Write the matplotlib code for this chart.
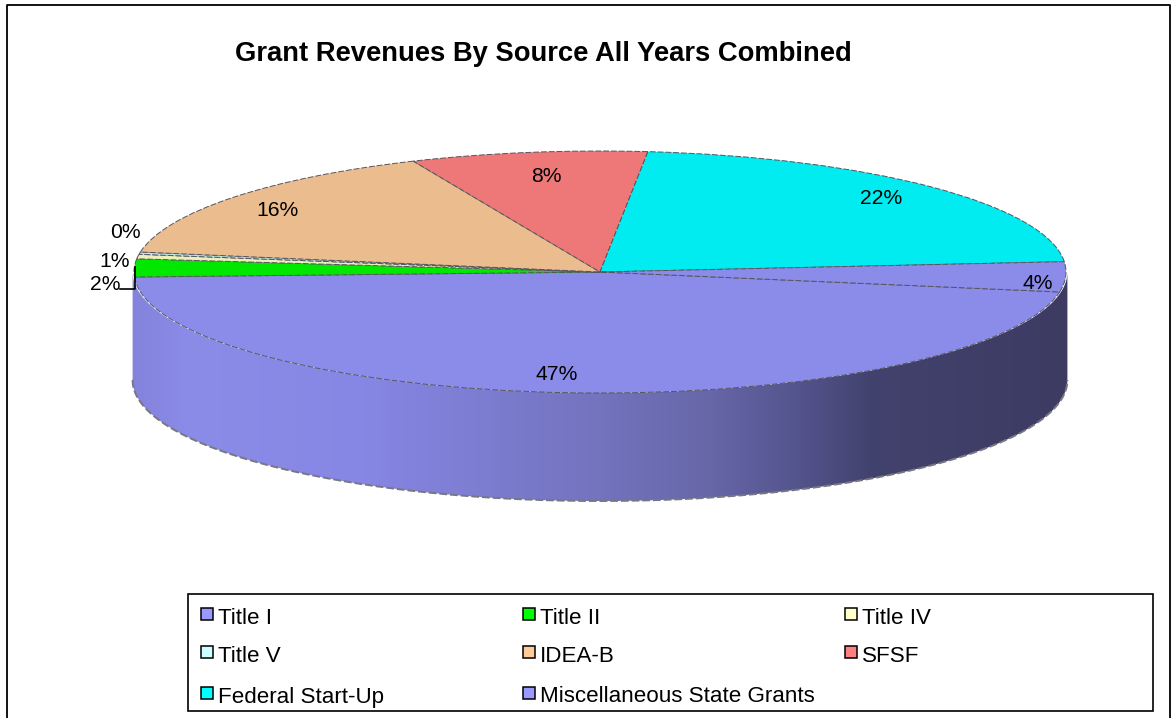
import numpy as np
import matplotlib
matplotlib.use("Agg")
import matplotlib.pyplot as plt
from matplotlib.colors import LinearSegmentedColormap
from matplotlib.patches import Rectangle, Polygon
from matplotlib.lines import Line2D

plt.rcParams['font.family'] = ['Liberation Sans', 'DejaVu Sans']

title = "Grant Revenues By Source All Years Combined"
sources = ["Title I", "Title II", "Title IV", "Title V", "IDEA-B", "SFSF",
           "Federal Start-Up", "Miscellaneous State Grants"]
shares = [46.7, 2.4, 0.6, 0.3, 15.8, 8.2, 22, 4]
pie_colors = ["#8B8BEA", "#00E800", "#EEEEB8", "#BCEAEA", "#EBBC8D", "#EE7777",
              "#00ECF0", "#8B8BEA"]
legend_colors = ["#9999FF", "#00FF00", "#FFFFCC", "#CCFFFF", "#FFCC99", "#FF8080",
                 "#00FFFF", "#9999FF"]

W, H = 1176, 718
fig = plt.figure(figsize=(W / 100, H / 100), dpi=100, facecolor="white")


def fx(x):
    return x / W


def fy(y):
    return 1 - y / H


# outer frame
fig.add_artist(Line2D([fx(7), fx(7), fx(1170), fx(1170)], [0, fy(5), fy(5), 0],
                      color="black", lw=1.3, transform=fig.transFigure))

# pie axes: the top face ellipse spans T..B, the wall hangs below it
L, R, T, B = 134, 1066, 151, 393
wall_px = 108
ax = fig.add_axes([fx(L - 4), fy(B + wall_px + 4), (R - L + 8) / W,
                   (B - T + wall_px + 8) / H])
wedges, _ = ax.pie(shares, colors=pie_colors, startangle=-9.5, counterclock=False,
                   radius=1, center=(0, 0),
                   wedgeprops=dict(edgecolor="#55555F", linewidth=0.7,
                                   linestyle=(0, (6, 2)), zorder=3))
ax.set_aspect("auto")

# side wall
ry_px = (B - T) / 2
rx_px = (R - L) / 2
depth = wall_px / ry_px
t = np.linspace(np.pi, 2 * np.pi, 300)
xs = np.cos(t) * 1.003
top = np.sin(t)
wall_xy = np.column_stack([np.r_[xs, xs[::-1]], np.r_[top, (top - depth)[::-1]]])
cmap = LinearSegmentedColormap.from_list(
    "wall",
    [(0.0, "#8383DC"), (0.06, "#8B8BE8"), (0.25, "#8686E4"), (0.50, "#7373BE"),
     (0.62, "#6666A8"), (0.72, "#52528A"), (0.79, "#42426E"), (1.0, "#3D3B62")])
grad = np.linspace(0, 1, 512).reshape(1, -1)
im = ax.imshow(grad, cmap=cmap, extent=(-1.01, 1.01, -1 - depth, 1), aspect="auto",
               zorder=1, interpolation="bilinear")
clip = Polygon(wall_xy, closed=True, transform=ax.transData, facecolor="none",
               edgecolor="none")
ax.add_patch(clip)
im.set_clip_path(clip)
ax.plot(xs, top - depth, color="#77777F", lw=1.4, linestyle=(0, (4, 1.5)), zorder=2)
ax.set_xlim(-1 - 4 / rx_px, 1 + 4 / rx_px)
ax.set_ylim(-1 - depth - 4 / ry_px, 1 + 4 / ry_px)
ax.axis("off")

# title
fig.text(fx(543), fy(54), title, fontsize=19.75, fontweight="bold", ha="center",
         va="center", color="black")

# data labels
label_px = [(557, 375), (105, 285), (115, 261), (125, 233), (278, 210), (546, 177),
            (881, 199), (1038, 283)]
for v, (x, y) in zip(shares, label_px):
    fig.text(fx(x), fy(y), f"{round(v)}%", fontsize=15.2, ha="center", va="center",
             color="black")

# leader line for the 2% label
fig.add_artist(Line2D([fx(120), fx(135), fx(135)], [fy(289), fy(289), fy(267)],
                      color="black", lw=1.2, transform=fig.transFigure))

# legend
fig.add_artist(Rectangle((fx(188), fy(711)), (1153 - 188) / W, (711 - 594) / H,
                         facecolor="white", edgecolor="black", lw=1.2,
                         transform=fig.transFigure))
col_x = [201, 523, 845]
row_y = [616, 654, 695]
for i, (name, c) in enumerate(zip(sources, legend_colors)):
    x = col_x[i % 3]
    y = row_y[i // 3]
    fig.add_artist(Rectangle((fx(x), fy(y + 4)), 12 / W, 12 / H, facecolor=c,
                             edgecolor="black", lw=1.1, transform=fig.transFigure))
    fig.text(fx(x + 17), fy(y + 2), name, fontsize=16.1, ha="left", va="center",
             color="black")

fig.savefig("out.png", dpi=100)
